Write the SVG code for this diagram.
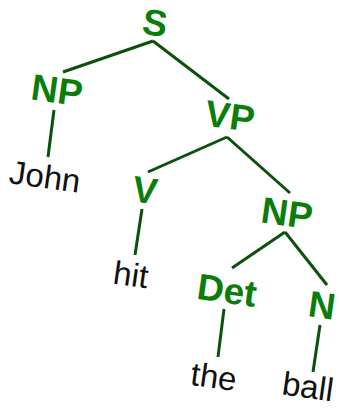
<svg xmlns="http://www.w3.org/2000/svg" width="339" height="408" viewBox="0 0 339 408">
<style>
.cat{font-family:"Liberation Sans",Arial,sans-serif;font-weight:bold;font-size:37px;fill:#0a7d0a;text-anchor:middle}
.word{font-family:"Liberation Sans",Arial,sans-serif;font-size:33px;fill:#111;text-anchor:middle}
.edge{stroke:#0a520a;stroke-width:3;stroke-linecap:butt;fill:none}
</style>
<rect width="339" height="408" fill="#fff"/>
<g id="connectors">
<line class="edge" x1="153" y1="41" x2="63" y2="72"/>
<line class="edge" x1="153" y1="41" x2="229" y2="99"/>
<line class="edge" x1="54" y1="110" x2="48" y2="157"/>
<line class="edge" x1="227" y1="137" x2="148" y2="172"/>
<line class="edge" x1="227" y1="137" x2="290" y2="193"/>
<line class="edge" x1="142" y1="209" x2="135" y2="255"/>
<line class="edge" x1="285" y1="232" x2="232" y2="268"/>
<line class="edge" x1="285" y1="232" x2="327" y2="285"/>
<line class="edge" x1="224" y1="309" x2="218" y2="357"/>
<line class="edge" x1="320" y1="325" x2="313" y2="372"/>
</g>
<g id="S"><text class="cat" transform="translate(155,22.5) rotate(8)" y="13">S</text></g>
<g id="NP1"><text class="cat" transform="translate(57,90) rotate(8)" y="13">NP</text></g>
<g id="VP"><text class="cat" transform="translate(230,116) rotate(8)" y="13">VP</text></g>
<g id="V"><text class="cat" transform="translate(145,190) rotate(8)" y="13">V</text></g>
<g id="NP2"><text class="cat" transform="translate(287,213) rotate(8)" y="13">NP</text></g>
<g id="Det"><text class="cat" transform="translate(227,290) rotate(8)" y="13">Det</text></g>
<g id="N"><text class="cat" transform="translate(322,305) rotate(8)" y="13">N</text></g>
<g id="John"><text class="word" transform="translate(45,176) rotate(8)" y="12">John</text></g>
<g id="hit"><text class="word" transform="translate(131,274) rotate(8)" y="12">hit</text></g>
<g id="the"><text class="word" transform="translate(214,376) rotate(8)" y="12">the</text></g>
<g id="ball"><text class="word" transform="translate(308,386) rotate(8)" y="12">ball</text></g>
</svg>
